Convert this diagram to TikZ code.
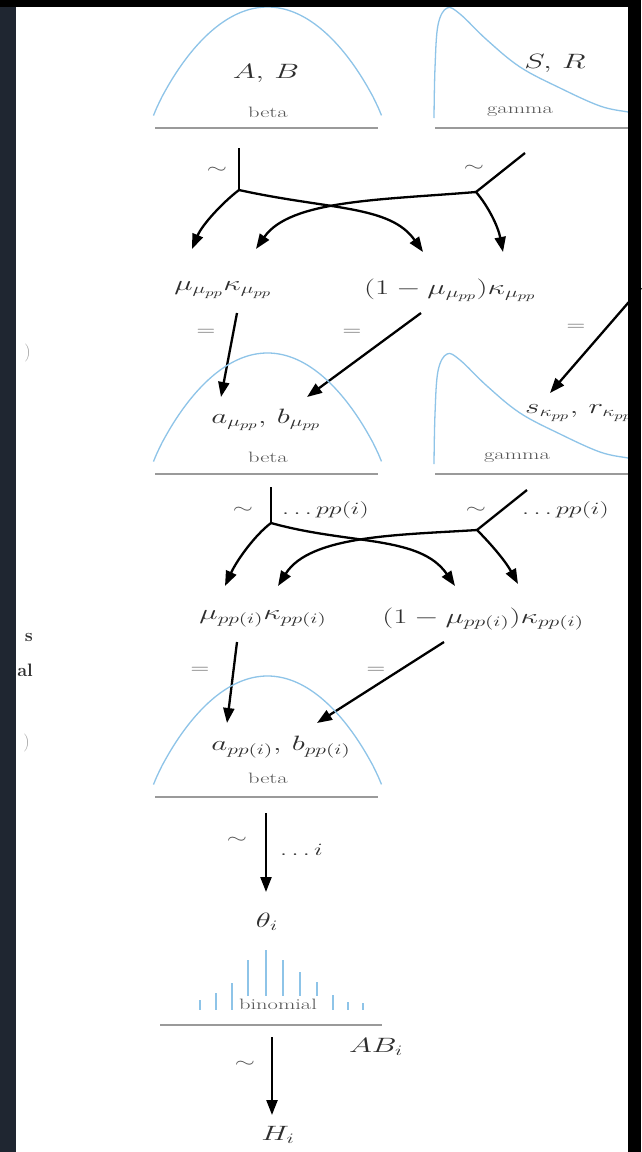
\documentclass[tikz,border=0pt]{standalone}
\usetikzlibrary{arrows.meta}
\definecolor{curveblue}{HTML}{8EC4E8}
\definecolor{txt}{HTML}{2E2E2E}
\definecolor{lighttxt}{HTML}{555555}
\definecolor{baseg}{HTML}{9A9A9A}
\definecolor{navy}{HTML}{1F2631}
\newcommand{\myx}[1]{\scalebox{1.5}[1]{#1}}
\newcommand{\betapdf}[1]{%
  \draw[pdf] plot[domain=0.002:0.998, samples=80, variable=\t] ({153+229*\t}, {#1-11-110*(4*\t*(1-\t))^0.9});
  \draw[base] (155,#1) -- (378,#1);}
\newcommand{\gammapdf}[1]{%
  \draw[pdf] plot[smooth, tension=0.6] coordinates {(434,#1-10) (435,#1-60) (438,#1-103) (447,#1-120) (460,#1-114) (487,#1-88) (520,#1-61) (560,#1-40) (600,#1-22) (628,#1-16) (641,#1-14)};
  \draw[base] (435,#1) -- (641,#1);}
\begin{document}
\begin{tikzpicture}[x=1pt,y=-1pt,
  mlab/.style={inner sep=0pt, text=txt, font=\fontsize{21}{23}\selectfont},
  dlab/.style={inner sep=0pt, text=lighttxt, font=\fontsize{15}{17}\selectfont},
  rel/.style={inner sep=0pt, text=lighttxt, font=\fontsize{16}{18}\selectfont},
  frag/.style={anchor=east, inner sep=0pt, font=\fontsize{18}{20}\selectfont},
  pdf/.style={draw=curveblue, line width=1.3pt},
  base/.style={draw=baseg, line width=2.4pt},
  conn/.style={draw=black, line width=2.3pt},
  arr/.style={conn, -{Triangle[length=15pt,width=11pt]}},
  bar/.style={draw=curveblue, line width=2.6pt},
]
\fill[white] (0,0) rectangle (641,1152);
\useasboundingbox (0,0) rectangle (641,1152);

% ---------- level 1 ----------
\betapdf{128}
\gammapdf{128}
\node[mlab] (AB) at (266,73) {\myx{$A,\,B$}};
\node[dlab] (beta1) at (268,112) {\myx{beta}};
\node[mlab] (SR) at (555,63) {\myx{$S,\,R$}};
\node[dlab] (gam1) at (520,112) {\myx{gamma}};

\node[rel] (s1) at (217,170) {\myx{$\sim$}};
\node[rel] (s2) at (474,168) {\myx{$\sim$}};
\coordinate (st1) at (239,148);
\coordinate (br1) at (239,190);
\coordinate (st2) at (525,153);
\coordinate (br2) at (476,192);
\coordinate (tA) at (192,249);
\coordinate (tB) at (256,249);
\coordinate (tC) at (423,252);
\coordinate (tD) at (503,252);
\draw[conn] (st1) -- (br1);
\draw[arr] (br1) .. controls (222,203) and (202,225) .. (tA);
\draw[arr] (br1) .. controls (330,210) and (390,205) .. (tC);
\draw[conn] (st2) -- (br2);
\draw[arr] (br2) .. controls (488,206) and (498,226) .. (tD);
\draw[arr] (br2) .. controls (380,200) and (290,200) .. (tB);

\node[mlab] (m1) at (223,290) {\myx{$\mu_{\mu_{pp}}\kappa_{\mu_{pp}}$}};
\node[mlab] (m2) at (450,290) {\myx{$(1-\mu_{\mu_{pp}})\kappa_{\mu_{pp}}$}};

\node[rel] (e1) at (206,332) {\myx{$=$}};
\node[rel] (e2) at (352,332) {\myx{$=$}};
\node[rel] (e3) at (576,327) {\myx{$=$}};
\coordinate (a1s) at (237,313);
\coordinate (a1t) at (221,397);
\coordinate (a2s) at (421,313);
\coordinate (a2t) at (307,397);
\coordinate (a3s) at (641,288);
\coordinate (a3t) at (550,393);
\draw[arr] (a1s) -- (a1t);
\draw[arr] (a2s) -- (a2t);
\draw[arr] (a3s) -- (a3t);

% ---------- level 2 ----------
\betapdf{474}
\gammapdf{474}
\node[mlab] (ab2) at (266,420) {\myx{$a_{\mu_{pp}},\,b_{\mu_{pp}}$}};
\node[dlab] (beta2) at (268,457) {\myx{beta}};
\node[mlab, anchor=west] (sr2) at (525,413) {\myx{$s_{\kappa_{pp}},\,r_{\kappa_{pp}}$}};
\node[dlab] (gam2) at (517,458) {\myx{gamma}};

\node[rel] (s3) at (243,510) {\myx{$\sim$}};
\node[mlab, anchor=west, font=\fontsize{18}{20}\selectfont] (pp1) at (282,510) {\myx{$\ldots pp(i)$}};
\node[rel] (s4) at (476,510) {\myx{$\sim$}};
\node[mlab, anchor=west, font=\fontsize{18}{20}\selectfont] (pp2) at (522,510) {\myx{$\ldots pp(i)$}};
\coordinate (st3) at (271,487);
\coordinate (br3) at (271,523);
\coordinate (st4) at (527,490);
\coordinate (br4) at (477,530);
\coordinate (tE) at (225,586);
\coordinate (tF) at (278,586);
\coordinate (tG) at (455,586);
\coordinate (tH) at (518,584);
\draw[conn] (st3) -- (br3);
\draw[arr] (br3) .. controls (255,535) and (237,560) .. (tE);
\draw[arr] (br3) .. controls (350,545) and (420,535) .. (tG);
\draw[conn] (st4) -- (br4);
\draw[arr] (br4) .. controls (492,545) and (506,562) .. (tH);
\draw[arr] (br4) .. controls (400,535) and (310,535) .. (tF);

\node[mlab] (m3) at (263,619) {\myx{$\mu_{pp(i)}\kappa_{pp(i)}$}};
\node[mlab] (m4) at (483,619) {\myx{$(1-\mu_{pp(i)})\kappa_{pp(i)}$}};

\node[rel] (e4) at (200,670) {\myx{$=$}};
\node[rel] (e5) at (376,670) {\myx{$=$}};
\coordinate (a4s) at (237,642);
\coordinate (a4t) at (227,723);
\coordinate (a5s) at (444,642);
\coordinate (a5t) at (317,723);
\draw[arr] (a4s) -- (a4t);
\draw[arr] (a5s) -- (a5t);

% ---------- level 3 ----------
\betapdf{797}
\node[mlab] (ab3) at (281,747) {\myx{$a_{pp(i)},\,b_{pp(i)}$}};
\node[dlab] (beta3) at (268,778) {\myx{beta}};

\node[rel] (s5) at (237,840) {\myx{$\sim$}};
\node[mlab, anchor=west, font=\fontsize{18}{20}\selectfont] (ii) at (280,850) {\myx{$\ldots i$}};
\coordinate (st5) at (266,813);
\coordinate (t5) at (266,892);
\draw[arr] (st5) -- (t5);

\node[mlab] (theta) at (267,922) {\myx{$\theta_i$}};

% ---------- binomial ----------
\foreach \bx/\by in {200/1000, 216/993, 232/983, 248/960, 266/950, 283/960, 300/972, 317/982, 333/995, 348/1002, 363/1003}
  \draw[bar] (\bx,\by) -- (\bx,1010);
\node[dlab, fill=white, inner xsep=2pt, inner ysep=3pt] (binom) at (278,1004) {\myx{binomial}};
\draw[base] (160,1025) -- (382,1025);
\node[mlab] (ABi) at (376,1047) {\myx{$AB_i$}};

\node[rel] (s6) at (245,1064) {\myx{$\sim$}};
\coordinate (st6) at (272,1037);
\coordinate (t6) at (272,1115);
\draw[arr] (st6) -- (t6);
\node[mlab] (Hi) at (278,1135) {\myx{$H_i$}};

% ---------- cut-off fragments at left edge ----------
\node[frag, text=gray!75] (f1) at (31,353) {)};
\node[frag, text=txt] (f2) at (33,637) {\bfseries s};
\node[frag, text=txt] (f3) at (33,670) {\bfseries al};
\node[frag, text=gray!75] (f4) at (30,743) {)};

% ---------- dark frame strips ----------
\fill[navy] (0,0) rectangle (16,1152);
\fill[black] (0,0) rectangle (641,7);
\fill[black] (628,0) rectangle (641,1152);
\end{tikzpicture}
\end{document}
